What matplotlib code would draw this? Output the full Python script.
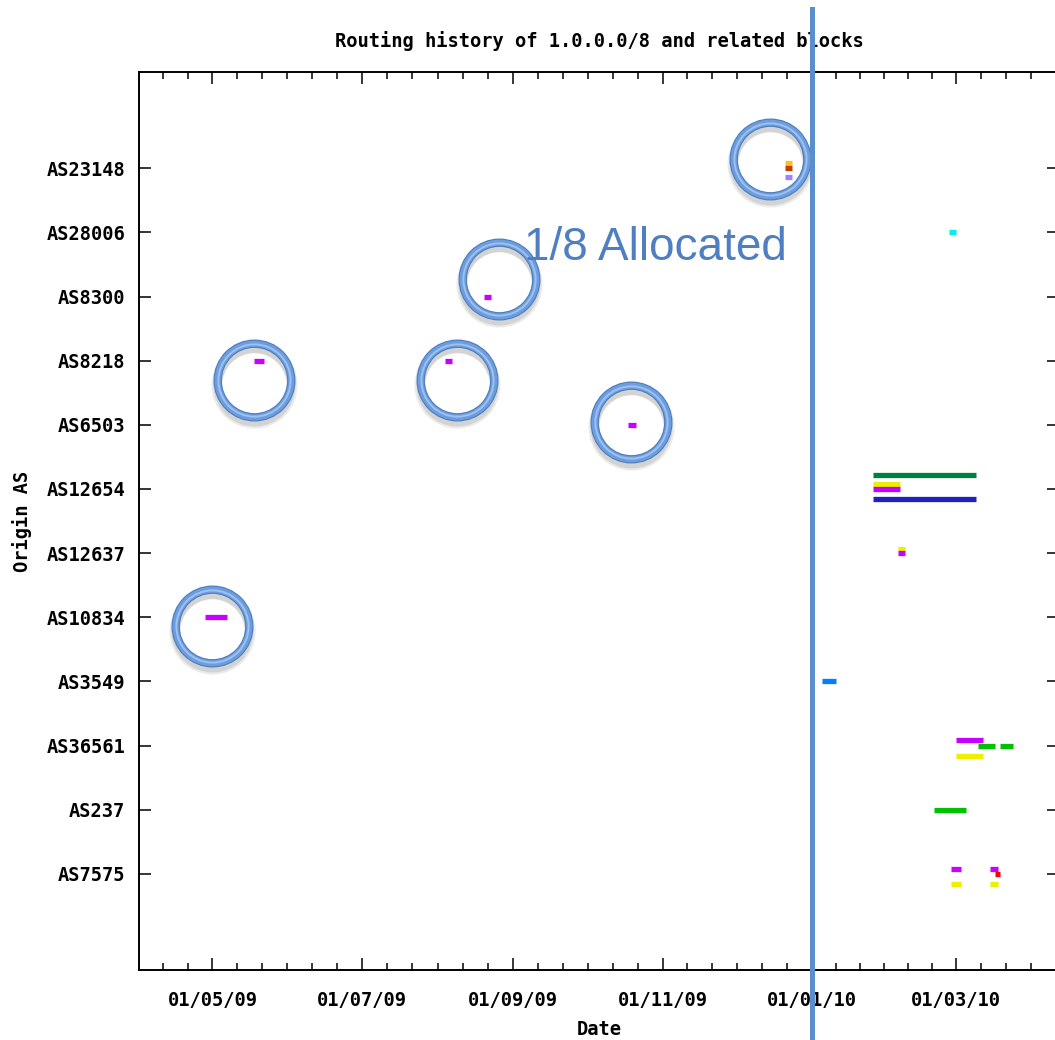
import matplotlib
matplotlib.use('Agg')
import matplotlib.pyplot as plt
import matplotlib.dates as mdates
from matplotlib import transforms
import pandas as pd

# origin ASes, bottom to top
as_names = ["AS7575", "AS237", "AS36561", "AS3549", "AS10834", "AS12637",
	"AS12654", "AS6503", "AS8218", "AS8300", "AS28006", "AS23148"]

# announcement segments
seg_as = ["AS10834", "AS8218", "AS8218", "AS8300", "AS6503",
	"AS23148", "AS23148", "AS23148", "AS3549",
	"AS12654", "AS12654", "AS12654", "AS12654",
	"AS12637", "AS12637", "AS28006",
	"AS36561", "AS36561", "AS36561", "AS36561", "AS237",
	"AS7575", "AS7575", "AS7575", "AS7575", "AS7575"]
seg_start = ["2009-04-28", "2009-05-18", "2009-08-04", "2009-08-20", "2009-10-18",
	"2009-12-21", "2009-12-21", "2009-12-21", "2010-01-05",
	"2010-01-26", "2010-01-26", "2010-01-26", "2010-01-26",
	"2010-02-05", "2010-02-05", "2010-02-26",
	"2010-03-01", "2010-03-10", "2010-03-19", "2010-03-01", "2010-02-20",
	"2010-02-27", "2010-03-15", "2010-03-17", "2010-02-27", "2010-03-15"]
seg_end = ["2009-05-07", "2009-05-22", "2009-08-07", "2009-08-23", "2009-10-21",
	"2009-12-24", "2009-12-24", "2009-12-24", "2010-01-11",
	"2010-03-09", "2010-02-06", "2010-02-06", "2010-03-09",
	"2010-02-08", "2010-02-08", "2010-03-01",
	"2010-03-12", "2010-03-17", "2010-03-24", "2010-03-12", "2010-03-05",
	"2010-03-03", "2010-03-18", "2010-03-19", "2010-03-03", "2010-03-18"]
seg_color = ["#c800ff", "#c800ff", "#c800ff", "#c800ff", "#c800ff",
	"#ffc020", "#c04000", "#a080ff", "#0080ff",
	"#008040", "#eeee00", "#c800ff", "#2020c0",
	"#eeee00", "#c800ff", "#00eeee",
	"#c800ff", "#00c000", "#00c000", "#eeee00", "#00c000",
	"#c800ff", "#c800ff", "#ff0000", "#eeee00", "#eeee00"]
seg_offset = [0, 0, 0, 0, 0,
	0.08, 0, -0.14, 0,
	0.22, 0.08, 0, -0.15,
	0.07, 0, 0,
	0.09, 0, 0, -0.16, 0,
	0.08, 0.08, 0, -0.16, -0.16]

# highlight circles (slide annotation)
circle_as = ["AS23148", "AS8300", "AS8218", "AS8218", "AS6503", "AS10834"]
circle_date = ["2009-12-15", "2009-08-26", "2009-05-18", "2009-08-09", "2009-10-19", "2009-05-01"]
circle_offset = [0.14, 0.28, -0.30, -0.30, 0.05, -0.14]

alloc_date = "2010-01-01"
alloc_text = "1/8 Allocated"

plt.rcParams['font.family'] = ['DejaVu Sans Mono']
plt.rcParams['font.weight'] = 'bold'
plt.rcParams['font.size'] = 13.5

fig = plt.figure(figsize=(10.55, 10.40), dpi=100)
ax = fig.add_axes([139/1055., 70/1040., 920/1055., 898/1040.])

ypos = {a: i for i, a in enumerate(as_names)}

ys = [ypos[a] + o for a, o in zip(seg_as, seg_offset)]
x0 = mdates.date2num(pd.to_datetime(seg_start))
x1 = mdates.date2num(pd.to_datetime(seg_end))
lc = ax.hlines(ys, x0, x1, colors=seg_color, linewidth=3.8, zorder=3)
lc.set_capstyle('butt')

majors = pd.date_range("2009-03-01", "2010-05-01", freq="2MS")
mnum = mdates.date2num(majors)
minors = []
for a, b in zip(mnum[:-1], mnum[1:]):
	for k in range(1, 6):
		minors.append(a + (b - a) * k / 6.)
ax.set_xticks(mnum)
ax.set_xticks(minors, minor=True)
ax.xaxis.set_major_formatter(mdates.DateFormatter("%d/%m/%y"))
ax.set_yticks(range(len(as_names)))
ax.set_yticklabels(as_names)

# limits after the ticks, set_xticks widens the view
ax.set_xlim(mdates.date2num(pd.Timestamp("2009-04-01")), mdates.date2num(pd.Timestamp("2010-04-12")))
ax.set_ylim(-1.5, 12.5)

ax.tick_params(which='both', direction='in', top=True, right=True, width=1.1, color='black')
ax.tick_params(which='major', length=8.6)
ax.tick_params(which='minor', length=5)
ax.tick_params(axis='x', pad=15)
ax.tick_params(axis='y', pad=10)
for s in ax.spines.values():
	s.set_linewidth(1.4)

ax.set_title("Routing history of 1.0.0.0/8 and related blocks", pad=18, fontweight='bold', fontsize=13.5)
ax.set_xlabel("Date", labelpad=7, fontweight='bold')
ax.set_ylabel("Origin AS", labelpad=10, fontweight='bold')

# circles
cx = mdates.date2num(pd.to_datetime(circle_date))
cy = [ypos[a] + o for a, o in zip(circle_as, circle_offset)]
shadow = transforms.offset_copy(ax.transData, fig=fig, x=0, y=-5, units='dots')
ax.plot(cx, cy, 'o', ms=54, mfc='none', mec='black', mew=8, alpha=0.08, transform=shadow, zorder=4)
ax.plot(cx, cy, 'o', ms=53, mfc='none', mec='black', mew=6, alpha=0.10, transform=shadow, zorder=4)
ax.plot(cx, cy, 'o', ms=53, mfc='none', mec='#4a7ebb', mew=6, zorder=5)
ax.plot(cx, cy, 'o', ms=53, mfc='none', mec='#6d9de0', mew=4.4, zorder=6)
ax.plot(cx, cy, 'o', ms=52, mfc='none', mec='#9ec1ee', mew=1.4, zorder=7)

# allocation line + label
ax.axvline(mdates.date2num(pd.Timestamp(alloc_date)), ymin=-0.078, ymax=1.07, color='#5b8fcc',
	linewidth=3.6, clip_on=False, zorder=8)
ax.text(0.704, 0.791, alloc_text, transform=ax.transAxes, ha='right', va='baseline',
	fontsize=33, color='#4f7fc0', fontfamily='Liberation Sans', fontweight='normal', zorder=9)

fig.savefig("out.png", dpi=100)
